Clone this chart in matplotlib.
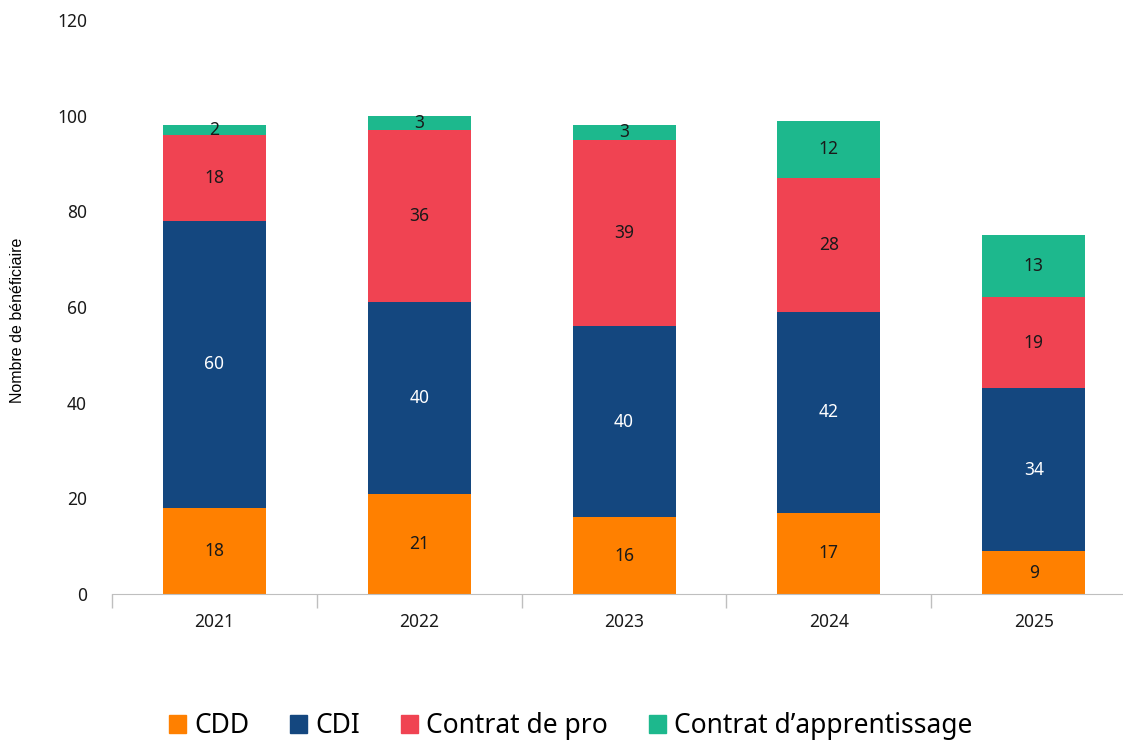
import numpy as np
import matplotlib.pyplot as plt
from matplotlib.patches import Patch

years = ['2021', '2022', '2023', '2024', '2025']
cdd = [18, 21, 16, 17, 9]
cdi = [60, 40, 40, 42, 34]
pro = [18, 36, 39, 28, 19]
appr = [2, 3, 3, 12, 13]

names = ['CDD', 'CDI', 'Contrat de pro', 'Contrat d\u2019apprentissage']
colors = ['#FF8000', '#14477F', '#F04352', '#1DB88D']
text_colors = ['#1a1a1a', 'white', '#1a1a1a', '#1a1a1a']

plt.rcParams['font.family'] = ['Noto Sans', 'DejaVu Sans']

fig = plt.figure(figsize=(11.23, 7.43), dpi=100)
ax = fig.add_axes([0.0997, 0.2005, 0.912, 0.7725])

x = np.arange(len(years))
bottom = np.zeros(len(years))
for vals, col, tc in zip([cdd, cdi, pro, appr], colors, text_colors):
    bars = ax.bar(x, vals, 0.503, bottom=bottom, color=col)
    ax.bar_label(bars, label_type='center', color=tc, fontsize=12.5)
    bottom += np.array(vals)

ax.set_xlim(-0.5, 4.5)
ax.set_ylim(0, 120)
ax.set_yticks(range(0, 121, 20))
ax.set_xticks(x, years)
ax.set_xticks(np.arange(-0.5, 5, 1), minor=True)
ax.tick_params(axis='x', which='major', length=0, pad=14, labelsize=12.5, colors='#1a1a1a')
ax.tick_params(axis='x', which='minor', length=10, color='#bfbfbf', width=1)
ax.tick_params(axis='y', length=0, pad=18, labelsize=12.5, colors='#1a1a1a')
for s in ['top', 'right', 'left']:
    ax.spines[s].set_visible(False)
ax.spines['bottom'].set_color('#bfbfbf')

fig.text(0.016, 0.569, 'Nombre de b\u00e9n\u00e9ficiaire', rotation=90, va='center', ha='center',
         fontsize=11.5, family='Liberation Sans')

handles = [Patch(color=c) for c in colors]
fig.legend(handles, names, loc='lower center', bbox_to_anchor=(0.508, -0.028), ncol=4, frameon=False,
           fontsize=19, handlelength=0.65, handleheight=0.65, handletextpad=0.3, columnspacing=1.55)

fig.savefig('out.png')
